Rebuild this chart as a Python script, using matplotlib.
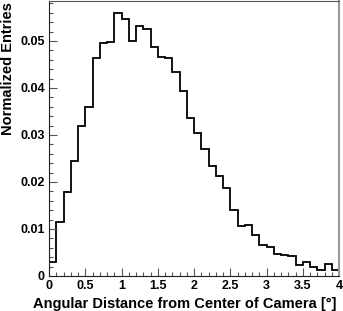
import numpy as np
import matplotlib
matplotlib.use("Agg")
import matplotlib.pyplot as plt
from matplotlib.ticker import MultipleLocator

# histogram: angular distance from camera centre, 40 bins of 0.1 deg
bin_edges = np.round(np.arange(0, 4.01, 0.1), 2)
entries = [0.0030, 0.0114, 0.0179, 0.0245, 0.0319, 0.0360, 0.0464, 0.0495,
           0.0497, 0.0559, 0.0546, 0.0499, 0.0532, 0.0525, 0.0488, 0.0465,
           0.0463, 0.0433, 0.0394, 0.0337, 0.0304, 0.0270, 0.0233, 0.0213,
           0.0188, 0.0140, 0.0106, 0.0109, 0.0087, 0.0065, 0.0062, 0.0047,
           0.0045, 0.0043, 0.0024, 0.0030, 0.0019, 0.0012, 0.0025, 0.0012]
x_ticks = [0, 0.5, 1, 1.5, 2, 2.5, 3, 3.5, 4]
x_tick_labels = ["0", "0.5", "1", "1.5", "2", "2.5", "3", "3.5", "4"]
y_ticks = [0, 0.01, 0.02, 0.03, 0.04, 0.05]
y_tick_labels = ["0", "0.01", "0.02", "0.03", "0.04", "0.05"]

plt.rcParams['font.family'] = ['Liberation Sans', 'DejaVu Sans']
plt.rcParams['font.weight'] = 'bold'

fig = plt.figure(figsize=(3.43, 3.11), dpi=100)
ax = fig.add_axes([49 / 343, 35 / 311, 290 / 343, 275 / 311])

ax.stairs(entries, bin_edges, color='black', linewidth=1.3, baseline=None)

ax.set_xlim(0, 4)
ax.set_ylim(0, 0.0585)
ax.set_xticks(x_ticks)
ax.set_xticklabels(x_tick_labels)
ax.set_yticks(y_ticks)
ax.set_yticklabels(y_tick_labels)
ax.xaxis.set_minor_locator(MultipleLocator(0.1))
ax.yaxis.set_minor_locator(MultipleLocator(0.002))
ax.tick_params(which='both', direction='in', top=False, right=False,
               labelsize=9, color='#555555', pad=3)
ax.tick_params(which='major', length=6, width=0.8)
ax.tick_params(which='minor', length=3, width=0.8)

for lab in ax.get_xticklabels() + ax.get_yticklabels():
    lab.set_fontweight('bold')

ax.spines['left'].set_color('#222222')
ax.spines['bottom'].set_color('#222222')
ax.spines['top'].set_color('#555555')
ax.spines['right'].set_color('#999999')
ax.spines['right'].set_linewidth(1.5)

# ROOT-style titles: right/top aligned
ax.set_xlabel('Angular Distance from Center of Camera [°]', fontsize=10.5,
              fontweight='bold', ha='right', va='top')
ax.xaxis.set_label_coords(0.993, -0.076)
ax.set_ylabel('Normalized Entries', fontsize=10.5, fontweight='bold',
              va='center')
ax.yaxis.set_label_coords(-0.14, 0.753)

fig.savefig('out.png', dpi=100)
